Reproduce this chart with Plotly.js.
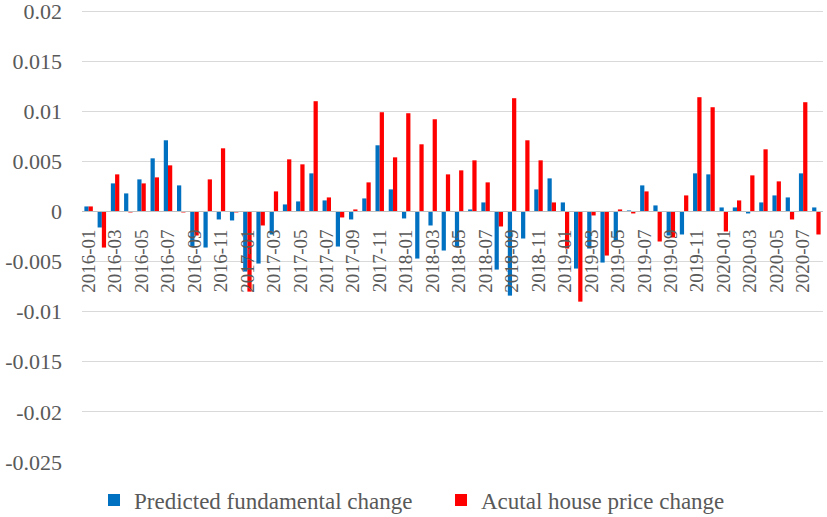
<!DOCTYPE html>
<html>
<head>
<meta charset="utf-8">
<script src="https://cdn.plot.ly/plotly-3.0.1.min.js"></script>
<style>html,body{margin:0;padding:0;background:#fff;}#chart{width:827px;height:517px;}</style>
</head>
<body>
<div id="chart"></div>
<script>
const months = [
"2016-01","2016-02","2016-03","2016-04","2016-05","2016-06","2016-07","2016-08","2016-09","2016-10","2016-11","2016-12",
"2017-01","2017-02","2017-03","2017-04","2017-05","2017-06","2017-07","2017-08","2017-09","2017-10","2017-11","2017-12",
"2018-01","2018-02","2018-03","2018-04","2018-05","2018-06","2018-07","2018-08","2018-09","2018-10","2018-11","2018-12",
"2019-01","2019-02","2019-03","2019-04","2019-05","2019-06","2019-07","2019-08","2019-09","2019-10","2019-11","2019-12",
"2020-01","2020-02","2020-03","2020-04","2020-05","2020-06","2020-07","2020-08"];

const predicted = [
0.0005,-0.0016,0.0028,0.0018,0.0032,0.0053,0.0071,0.0026,-0.0035,-0.0036,-0.0008,-0.0009,
-0.0060,-0.0052,-0.0023,0.0007,0.0010,0.0038,0.0011,-0.0035,-0.0008,0.0013,0.0066,0.0022,
-0.0007,-0.0047,-0.0014,-0.0039,-0.0035,0.0002,0.0009,-0.0058,-0.0084,-0.0027,0.0022,0.0033,
0.0009,-0.0057,-0.0037,-0.0051,-0.0029,0.0001,0.0026,0.0006,-0.0024,-0.0023,0.0038,0.0037,
0.0004,0.0004,-0.0002,0.0009,0.0016,0.0014,0.0038,0.0004];

const actual = [
0.0005,-0.0036,0.0037,-0.0001,0.0028,0.0034,0.0046,-0.0001,-0.0024,0.0032,0.0063,-0.0001,
-0.0080,-0.0014,0.0020,0.0052,0.0047,0.0110,0.0014,-0.0006,0.0002,0.0029,0.0099,0.0054,
0.0098,0.0067,0.0092,0.0037,0.0041,0.0051,0.0029,-0.0015,0.0113,0.0071,0.0051,0.0009,
-0.0037,-0.0090,-0.0004,-0.0044,0.0002,-0.0002,0.0020,-0.0030,-0.0026,0.0016,0.0114,0.0104,
-0.0020,0.0011,0.0036,0.0062,0.0030,-0.0008,0.0109,-0.0023];

const yTicks = [0.02,0.015,0.01,0.005,0,-0.005,-0.01,-0.015,-0.02,-0.025];
const yTickText = ["0.02","0.015","0.01","0.005","0","-0.005","-0.01","-0.015","-0.02","-0.025"];
const xTickVals = months.filter((m,i)=>i%2===0);
const xTickText = xTickVals.map(m => m + "\u00a0\u00a0");

const yMin = -0.025, yMax = 0.02;
const yTop = yMax + 0.0003;
const font = "'Liberation Serif', 'Times New Roman', serif";
const legFont = {family:font, size:23, color:'#595959'};

const traces = [
  {type:'bar', name:'Predicted fundamental change', x:months, y:predicted, marker:{color:'#0070C0'}, legend:'legend'},
  {type:'bar', name:'Acutal house price change', x:months, y:actual, marker:{color:'#FF0000'}, legend:'legend2'}
];

const layout = {
  width:827, height:517,
  margin:{l:82, r:4, t:8, b:55, autoexpand:false},
  paper_bgcolor:'#fff', plot_bgcolor:'#fff',
  font:{family:font, color:'#595959'},
  barmode:'group', bargap:0.36, bargroupgap:0,
  showlegend:true,
  legend:{orientation:'h', x:0.0162, xanchor:'left', y:-0.084, yanchor:'middle',
          font:legFont, itemwidth:30, bgcolor:'rgba(0,0,0,0)'},
  legend2:{orientation:'h', x:0.4845, xanchor:'left', y:-0.084, yanchor:'middle',
          font:legFont, itemwidth:30, bgcolor:'rgba(0,0,0,0)'},
  xaxis:{type:'category', anchor:'free', position:(0-yMin)/(yTop-yMin),
         tickmode:'array', tickvals:xTickVals, ticktext:xTickText, tickangle:-90,
         tickfont:{family:font, size:19, color:'#595959'},
         showline:true, linecolor:'#BFBFBF', linewidth:1,
         ticks:'', showgrid:false,
         zeroline:false, fixedrange:true},
  yaxis:{range:[yMin,yTop], tickmode:'array', tickvals:yTicks, ticktext:yTickText,
         tickfont:{family:font, size:22, color:'#595959'},
         showgrid:true, gridcolor:'#D9D9D9', gridwidth:1,
         zeroline:false, showline:false, ticklabeloverflow:'allow',
         ticks:'', ticklabelstandoff:19}
};

Plotly.newPlot('chart', traces, layout, {displayModeBar:false, staticPlot:true});
</script>
</body>
</html>
